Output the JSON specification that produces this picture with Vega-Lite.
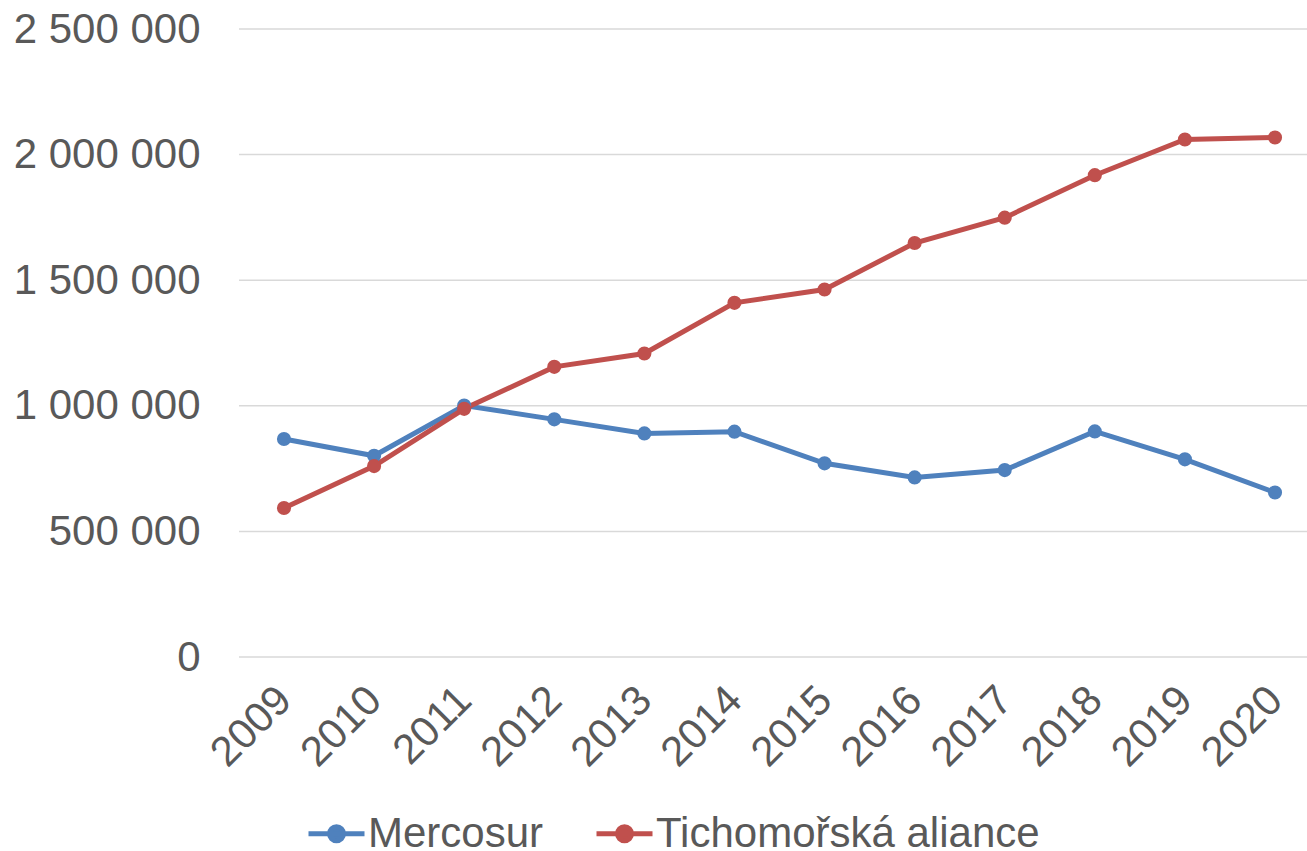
{
  "$schema": "https://vega.github.io/schema/vega-lite/v6.json",
  "autosize": {"type": "none"},
  "width": 1068,
  "height": 628,
  "padding": {"left": 239, "top": 29, "right": 0, "bottom": 194},
  "background": "white",
  "config": {
    "view": {"stroke": null},
    "font": "Liberation Sans",
    "locale": {"number": {"decimal": ",", "thousands": " ", "grouping": [3], "currency": ["", ""]}}
  },
  "datasets": {
    "grid": [
      {"gridValue": 0}, {"gridValue": 500000}, {"gridValue": 1000000},
      {"gridValue": 1500000}, {"gridValue": 2000000}, {"gridValue": 2500000}
    ],
    "series": [
      {"year": "2009", "series": "Mercosur", "value": 868000},
      {"year": "2010", "series": "Mercosur", "value": 801000},
      {"year": "2011", "series": "Mercosur", "value": 1001000},
      {"year": "2012", "series": "Mercosur", "value": 946000},
      {"year": "2013", "series": "Mercosur", "value": 890000},
      {"year": "2014", "series": "Mercosur", "value": 897000},
      {"year": "2015", "series": "Mercosur", "value": 771000},
      {"year": "2016", "series": "Mercosur", "value": 715000},
      {"year": "2017", "series": "Mercosur", "value": 744000},
      {"year": "2018", "series": "Mercosur", "value": 898000},
      {"year": "2019", "series": "Mercosur", "value": 787000},
      {"year": "2020", "series": "Mercosur", "value": 655000},
      {"year": "2009", "series": "Tichomořská aliance", "value": 593000},
      {"year": "2010", "series": "Tichomořská aliance", "value": 760000},
      {"year": "2011", "series": "Tichomořská aliance", "value": 988000},
      {"year": "2012", "series": "Tichomořská aliance", "value": 1155000},
      {"year": "2013", "series": "Tichomořská aliance", "value": 1208000},
      {"year": "2014", "series": "Tichomořská aliance", "value": 1410000},
      {"year": "2015", "series": "Tichomořská aliance", "value": 1463000},
      {"year": "2016", "series": "Tichomořská aliance", "value": 1648000},
      {"year": "2017", "series": "Tichomořská aliance", "value": 1749000},
      {"year": "2018", "series": "Tichomořská aliance", "value": 1918000},
      {"year": "2019", "series": "Tichomořská aliance", "value": 2060000},
      {"year": "2020", "series": "Tichomořská aliance", "value": 2068000}
    ]
  },
  "layer": [
    {
      "data": {"name": "grid"},
      "mark": {"type": "rule", "color": "#D9D9D9", "strokeWidth": 1.5},
      "encoding": {
        "y": {
          "field": "gridValue", "type": "quantitative",
          "scale": {"domain": [0, 2500000], "nice": false},
          "axis": {
            "title": null, "domain": false, "ticks": false, "grid": false,
            "values": [0, 500000, 1000000, 1500000, 2000000, 2500000],
            "format": ",d",
            "labelFontSize": 42, "labelColor": "#595959", "labelFont": "Liberation Sans",
            "labelPadding": 39, "labelLimit": 0
          }
        }
      }
    },
    {
      "data": {"name": "series"},
      "encoding": {
        "x": {
          "field": "year", "type": "ordinal",
          "scale": {"type": "point", "range": [45, 1036], "padding": 0},
          "axis": {
            "title": null, "grid": false, "domain": false, "ticks": false,
            "labelAngle": -45, "labelAlign": "right", "labelBaseline": "middle",
            "labelFontSize": 42, "labelColor": "#595959", "labelFont": "Liberation Sans",
            "labelPadding": 36, "labelLimit": 0, "labelOverlap": false
          }
        },
        "y": {
          "field": "value", "type": "quantitative",
          "scale": {"domain": [0, 2500000], "nice": false},
          "axis": {
            "title": null, "domain": false, "ticks": false, "grid": false,
            "values": [0, 500000, 1000000, 1500000, 2000000, 2500000],
            "format": ",d",
            "labelFontSize": 42, "labelColor": "#595959", "labelFont": "Liberation Sans",
            "labelPadding": 39, "labelLimit": 0
          }
        },
        "color": {
          "field": "series", "type": "nominal",
          "scale": {"domain": ["Mercosur", "Tichomořská aliance"], "range": ["#4F81BD", "#C0504D"]},
          "legend": {
            "title": null, "orient": "none", "direction": "horizontal",
            "legendX": 67, "legendY": 774, "padding": 0,
            "symbolType": "M-1,0L1,0M-0.25,0A0.25,0.25,0,1,1,0.25,0A0.25,0.25,0,1,1,-0.25,0Z",
            "symbolSize": 3136, "symbolStrokeWidth": 5,
            "labelFontSize": 42, "labelColor": "#595959", "labelFont": "Liberation Sans",
            "labelOffset": 1, "columnPadding": 42, "labelLimit": 0,
            "encode": {"symbols": {"update": {"fill": {"scale": "color", "field": "value"}, "stroke": {"scale": "color", "field": "value"}, "opacity": {"value": 1}}}}
          }
        },
        "detail": {"field": "series"}
      },
      "layer": [
        {"mark": {"type": "line", "strokeWidth": 5}},
        {"mark": {"type": "point", "filled": true, "size": 200, "opacity": 1}}
      ]
    }
  ]
}
